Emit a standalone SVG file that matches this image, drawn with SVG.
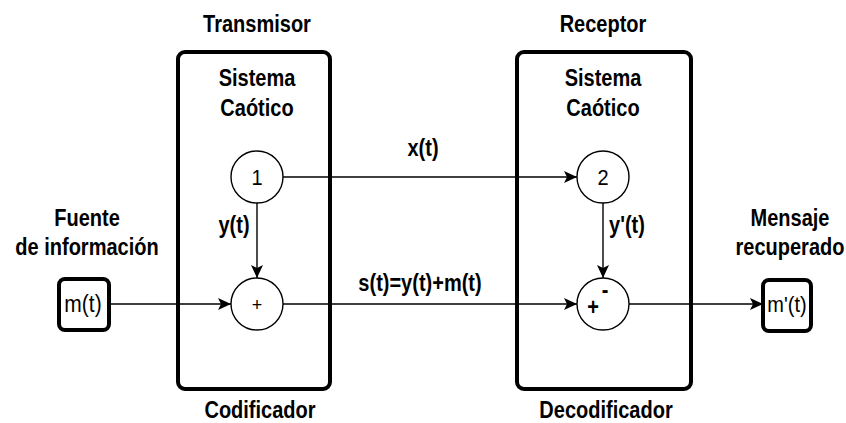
<svg xmlns="http://www.w3.org/2000/svg" width="846" height="423" viewBox="0 0 846 423">
<style>
.t{font-family:"Liberation Sans",Arial,sans-serif;font-weight:bold;font-size:20px;fill:#000;text-anchor:middle}
.n{font-family:"Liberation Sans",Arial,sans-serif;font-size:20px;fill:#000;text-anchor:middle}
.box{fill:#fff;stroke:#000;stroke-width:4}
.c{fill:#fff;stroke:#000;stroke-width:1.4}
.l{fill:none;stroke:#000;stroke-width:1.4}
</style>
<defs>
<marker id="a" markerWidth="14" markerHeight="12" refX="13" refY="6" orient="auto" markerUnits="userSpaceOnUse">
<path d="M0,0 L13,6 L0,12 L3,6 Z" fill="#000"/>
</marker>
</defs>
<g id="transmisor">
<rect class="box" x="178" y="52" width="152" height="337" rx="7"/>
<text class="t" transform="translate(257,32) scale(1,1.15)">Transmisor</text>
<text class="t" transform="translate(257,86) scale(1,1.15)">Sistema</text>
<text class="t" transform="translate(257,116) scale(1,1.15)">Caótico</text>
<text class="t" transform="translate(260,418) scale(1,1.15)">Codificador</text>
</g>
<g id="receptor">
<rect class="box" x="517" y="52" width="174" height="337" rx="7"/>
<text class="t" transform="translate(603,32) scale(1,1.15)">Receptor</text>
<text class="t" transform="translate(603,86) scale(1,1.15)">Sistema</text>
<text class="t" transform="translate(603,116) scale(1,1.15)">Caótico</text>
<text class="t" transform="translate(606,418) scale(1,1.15)">Decodificador</text>
</g>
<g id="fuente">
<rect class="box" x="59" y="279" width="50" height="51" rx="6"/>
<text class="n" transform="translate(83,312) scale(1,1.1)" style="font-size:21px">m(t)</text>
<text class="t" transform="translate(87,226) scale(1,1.15)">Fuente</text>
<text class="t" transform="translate(87,255) scale(1,1.15)">de información</text>
</g>
<g id="mensaje">
<rect class="box" x="763" y="280" width="48" height="51" rx="6"/>
<text class="n" transform="translate(787,312) scale(1,1.1)" style="font-size:20px">m'(t)</text>
<text class="t" transform="translate(790,226) scale(1,1.15)">Mensaje</text>
<text class="t" transform="translate(790,255) scale(1,1.15)">recuperado</text>
</g>
<g id="nodo1">
<circle class="c" cx="257" cy="177" r="26"/>
<text class="n" transform="translate(257,185) scale(1,1.1)">1</text>
</g>
<g id="suma">
<circle class="c" cx="257" cy="304" r="26"/>
<text class="n" x="257" y="311" style="font-size:18px">+</text>
</g>
<g id="nodo2">
<circle class="c" cx="603" cy="177" r="26"/>
<text class="n" transform="translate(603,185) scale(1,1.1)">2</text>
</g>
<g id="resta">
<circle class="c" cx="603" cy="304" r="26"/>
<text class="t" transform="translate(605,298) scale(1,1.15)">-</text>
<text class="t" transform="translate(593,315) scale(1,1.15)">+</text>
</g>
<g id="connectors">
<line class="l" x1="111" y1="304" x2="231" y2="304" marker-end="url(#a)"/>
<line class="l" x1="283" y1="304" x2="577" y2="304" marker-end="url(#a)"/>
<line class="l" x1="629" y1="304" x2="763" y2="304" marker-end="url(#a)"/>
<line class="l" x1="283" y1="177" x2="577" y2="177" marker-end="url(#a)"/>
<line class="l" x1="257" y1="203" x2="257" y2="278" marker-end="url(#a)"/>
<line class="l" x1="603" y1="203" x2="603" y2="278" marker-end="url(#a)"/>
<text class="t" transform="translate(423,156) scale(1,1.15)">x(t)</text>
<text class="t" transform="translate(234,233) scale(1,1.15)">y(t)</text>
<text class="t" transform="translate(627,233) scale(1,1.15)">y'(t)</text>
<text class="t" transform="translate(420,291) scale(1,1.15)">s(t)=y(t)+m(t)</text>
</g>
</svg>
